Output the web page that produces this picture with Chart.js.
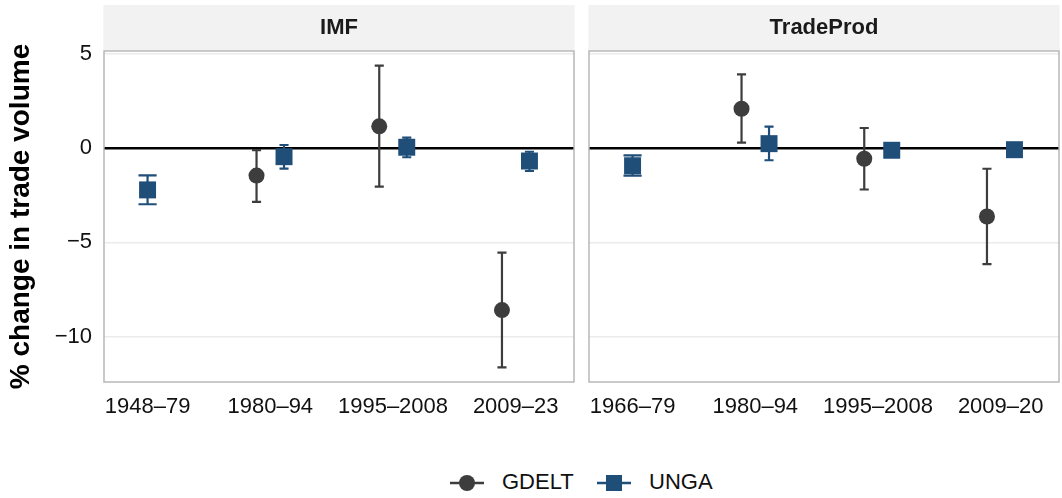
<!DOCTYPE html>
<html>
<head>
<meta charset="utf-8">
<script src="https://cdn.jsdelivr.net/npm/chart.js@4.4.0/dist/chart.umd.min.js"></script>
<style>
  body { margin: 0; background: #fff; width: 1062px; height: 498px; overflow: hidden; position: relative; font-family: "Liberation Sans", Arial, sans-serif; }
  canvas { position: absolute; top: 0; }
  #left { left: 0; }
  #right { left: 581px; }
  .leg { position: absolute; font-size: 22px; color: #111; line-height: 22px; }
  .leg svg { position: absolute; }
</style>
</head>
<body>
<canvas id="left" width="581" height="430"></canvas>
<canvas id="right" width="481" height="430"></canvas>

<div class="leg" style="left:450px; top:472px;">
  <svg width="34" height="20" style="left:0; top:1px;"><line x1="0" y1="10" x2="34" y2="10" stroke="#3d3d3d" stroke-width="2.5"/><circle cx="17" cy="10" r="8" fill="#3d3d3d"/></svg>
</div>
<div class="leg" style="left:502px; top:471px;">GDELT</div>
<div class="leg" style="left:597px; top:472px;">
  <svg width="34" height="20" style="left:0; top:1px;"><line x1="0" y1="10" x2="34" y2="10" stroke="#1f4e79" stroke-width="2.5"/><rect x="9" y="2" width="16" height="16" fill="#1f4e79"/></svg>
</div>
<div class="leg" style="left:649px; top:471px;">UNGA</div>

<script>
// y-axis
const yTicks = [-10, -5, 0, 5];

// IMF panel
const imfCats = ["1948–79", "1980–94", "1995–2008", "2009–23"];
const imfGdelt = [null, -1.46, 1.15, -8.59];
const imfGdeltLo = [null, -2.86, -2.05, -11.62];
const imfGdeltHi = [null, -0.11, 4.37, -5.54];
const imfUnga = [-2.22, -0.46, 0.04, -0.69];
const imfUngaLo = [-2.98, -1.09, -0.49, -1.22];
const imfUngaHi = [-1.45, 0.16, 0.55, -0.2];

// TradeProd panel
const tpCats = ["1966–79", "1980–94", "1995–2008", "2009–20"];
const tpGdelt = [null, 2.08, -0.57, -3.63];
const tpGdeltLo = [null, 0.28, -2.2, -6.15];
const tpGdeltHi = [null, 3.9, 1.06, -1.1];
const tpUnga = [-0.94, 0.23, -0.12, -0.09];
const tpUngaLo = [-1.46, -0.65, -0.27, -0.24];
const tpUngaHi = [-0.39, 1.13, 0.03, 0.06];

const FONT = '"Liberation Sans", Arial, sans-serif';
const DARK = '#3d3d3d';
const BLUE = '#1f4e79';
const DODGE = 0.112;

// build dodged points, like position_dodge in ggplot
function points(vals, lo, hi, other, side) {
  const out = [];
  vals.forEach((v, i) => {
    if (v == null) return;
    const both = other[i] != null;
    out.push({
      x: i + (both ? side * DODGE : 0),
      y: v, lo: lo[i], hi: hi[i],
      cap: both ? 0.037 : 0.074
    });
  });
  return out;
}

const errorBars = {
  id: 'errorBars',
  beforeDatasetsDraw(chart) {
    const { ctx, scales: { x, y } } = chart;
    ctx.save();
    chart.data.datasets.forEach(ds => {
      ctx.strokeStyle = ds.borderColor;
      ctx.lineWidth = 2.2;
      ds.data.forEach(p => {
        const px = x.getPixelForValue(p.x);
        const x0 = x.getPixelForValue(p.x - p.cap);
        const x1 = x.getPixelForValue(p.x + p.cap);
        const top = y.getPixelForValue(p.hi);
        const bot = y.getPixelForValue(p.lo);
        ctx.beginPath();
        ctx.moveTo(px, top); ctx.lineTo(px, bot);
        ctx.moveTo(x0, top); ctx.lineTo(x1, top);
        ctx.moveTo(x0, bot); ctx.lineTo(x1, bot);
        ctx.stroke();
      });
    });
    ctx.restore();
  }
};

const panel = {
  id: 'panel',
  beforeDraw(chart, args, opts) {
    const { ctx, chartArea: a } = chart;
    ctx.save();
    ctx.fillStyle = '#f2f2f2';
    ctx.fillRect(a.left - 0.7, 5, a.right - a.left + 1.4, 45);
    ctx.fillStyle = '#1a1a1a';
    ctx.font = 'bold 22px ' + FONT;
    ctx.textAlign = 'center';
    ctx.textBaseline = 'middle';
    ctx.fillText(opts.text, (a.left + a.right) / 2, 28);
    ctx.restore();
  },
  afterDraw(chart) {
    const { ctx, chartArea: a } = chart;
    ctx.save();
    ctx.strokeStyle = '#b3b3b3';
    ctx.lineWidth = 1.4;
    ctx.strokeRect(a.left, a.top, a.right - a.left, a.bottom - a.top);
    ctx.restore();
  }
};

function makeChart(id, title, cats, g, gLo, gHi, u, uLo, uHi, showY) {
  return new Chart(document.getElementById(id), {
    type: 'scatter',
    data: {
      datasets: [
        {
          label: 'GDELT',
          data: points(g, gLo, gHi, u, -1),
          pointStyle: 'circle',
          pointRadius: 8,
          pointHoverRadius: 8,
          backgroundColor: DARK,
          borderColor: DARK,
          borderWidth: 0
        },
        {
          label: 'UNGA',
          data: points(u, uLo, uHi, g, 1),
          pointStyle: 'rect',
          pointRadius: 12,
          pointHoverRadius: 12,
          backgroundColor: BLUE,
          borderColor: BLUE,
          borderWidth: 0
        }
      ]
    },
    options: {
      responsive: false,
      animation: false,
      layout: {
        autoPadding: false,
        padding: showY ? { left: 0, right: 7, top: 51, bottom: 0 } : { left: 8, right: 3, top: 51, bottom: 0 }
      },
      plugins: {
        legend: { display: false },
        tooltip: { enabled: false },
        panel: { text: title }
      },
      scales: {
        x: {
          type: 'linear',
          min: -0.355,
          max: 3.475,
          afterBuildTicks: s => { s.ticks = cats.map((c, i) => ({ value: i })); },
          afterFit: s => { s.height = 48; s.paddingLeft = 0; s.paddingRight = 0; },
          grid: { display: false, drawTicks: false },
          border: { display: false },
          ticks: {
            callback: v => cats[v],
            font: { family: FONT, size: 22 },
            color: '#111',
            padding: 12,
            maxRotation: 0,
            autoSkip: false
          }
        },
        y: {
          min: -12.4,
          max: 5.14,
          afterBuildTicks: s => { s.ticks = yTicks.map(v => ({ value: v })); },
          afterFit: s => { s.width = showY ? 104 : 0; s.paddingTop = 0; s.paddingBottom = 0; },
          grid: {
            color: c => c.tick && c.tick.value === 0 ? '#000' : '#ebebeb',
            lineWidth: c => c.tick && c.tick.value === 0 ? 2.6 : 1.5,
            drawTicks: false
          },
          border: { display: false },
          ticks: {
            display: showY,
            callback: v => v < 0 ? '\u2212' + Math.abs(v) : String(v),
            font: { family: FONT, size: 22 },
            color: '#111',
            padding: 12
          },
          title: {
            display: showY,
            text: '% change in trade volume',
            font: { family: FONT, size: 28, weight: 'bold' },
            color: '#000',
            padding: { top: 4, bottom: 0 }
          }
        }
      }
    },
    plugins: [panel, errorBars]
  });
}

makeChart('left', 'IMF', imfCats, imfGdelt, imfGdeltLo, imfGdeltHi, imfUnga, imfUngaLo, imfUngaHi, true);
makeChart('right', 'TradeProd', tpCats, tpGdelt, tpGdeltLo, tpGdeltHi, tpUnga, tpUngaLo, tpUngaHi, false);
</script>
</body>
</html>
